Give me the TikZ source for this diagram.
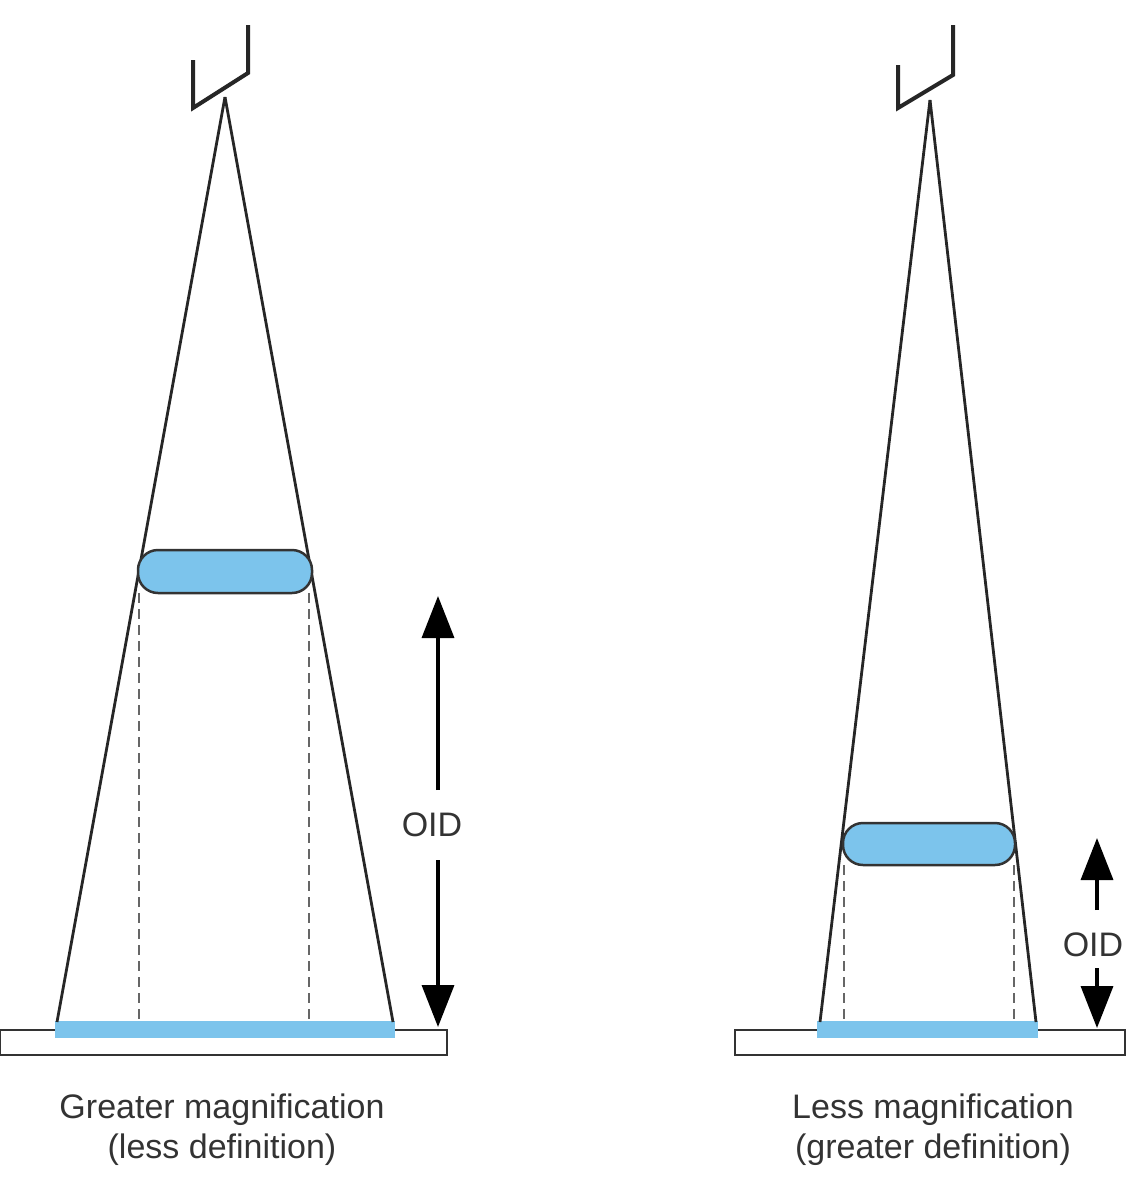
\documentclass[tikz,border=0pt]{standalone}
\usepackage{fontspec}
\setmainfont{Liberation Sans}
\usetikzlibrary{arrows.meta}
\definecolor{objblue}{HTML}{7CC4EC}
\definecolor{txt}{HTML}{333333}
\tikzset{
  ray/.style={line width=2.8pt, black!85},
  tube/.style={line width=4pt, black!85, line join=miter},
  obj/.style={fill=objblue, draw=black!80, line width=2.5pt, rounded corners=20pt},
  proj/.style={dashed, dash pattern=on 10pt off 6pt, line width=2.6pt, black!60},
  film/.style={draw=black!80, line width=2.8pt, fill=white},
  strip/.style={fill=objblue},
  oid/.style={line width=3.5pt, -{Triangle[length=42pt,width=32pt]}},
  lbl/.style={font=\fontsize{34}{40}\selectfont, text=txt, align=center},
}
\begin{document}
\begin{tikzpicture}[x=1pt,y=-1pt]
\useasboundingbox (0,0) rectangle (1143,1200);
% ---- left ----
\coordinate (La) at (225,97);
\draw[tube] (193,60) -- (193,108) -- (248,73) -- (248,25);
\draw[film] (0,1030) rectangle (447,1055);
\fill[strip] (55,1021) rectangle (395,1038);
\draw[ray] (La) -- (57,1022);
\draw[ray] (La) -- (393,1022);
\draw[proj] (139,593) -- (139,1020);
\draw[proj] (309,593) -- (309,1020);
\node[obj, minimum width=174pt, minimum height=43pt, inner sep=0] (Lobj) at (225,571.5) {};
\node[lbl] (Loid) at (432,825) {OID};
\draw[oid] (438,790) -- (438,596);
\draw[oid] (438,860) -- (438,1027);
\node[lbl] (Lt) at (222,1130) {Greater magnification\\(less definition)};
% ---- right ----
\coordinate (Ra) at (930,100);
\draw[tube] (898,65) -- (898,108) -- (953,75) -- (953,25);
\draw[film] (735,1030) rectangle (1125,1055);
\fill[strip] (817,1021) rectangle (1038,1038);
\draw[ray] (Ra) -- (820,1022);
\draw[ray] (Ra) -- (1036,1022);
\draw[proj] (844,865) -- (844,1020);
\draw[proj] (1014,865) -- (1014,1020);
\node[obj, minimum width=172pt, minimum height=42pt, inner sep=0] (Robj) at (929,844) {};
\node[lbl] (Roid) at (1093,945) {OID};
\draw[oid] (1097,910) -- (1097,838);
\draw[oid] (1097,968) -- (1097,1028);
\node[lbl] (Rt) at (933,1130) {Less magnification\\(greater definition)};
\end{tikzpicture}
\end{document}
